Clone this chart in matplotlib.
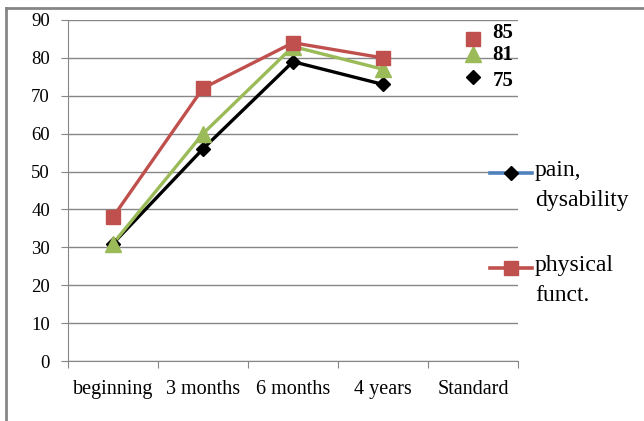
import matplotlib
matplotlib.use('Agg')
import matplotlib.pyplot as plt
from matplotlib.lines import Line2D
import numpy as np

plt.rcParams['font.family'] = ['Liberation Serif', 'DejaVu Serif']

categories = ['beginning', '3 months', '6 months', '4 years', 'Standard']
physical = [38, 72, 84, 80, 85]
middle = [31, 60, 83, 77, 81]
pain = [31, 56, 79, 73, 75]

red = '#C0504D'
green = '#9BBB59'
blue = '#4F81BD'
grey = '#868686'

fig = plt.figure(figsize=(6.44, 4.21), dpi=100)
ax = fig.add_axes([68 / 644, 1 - 361 / 421, 450 / 644, 341 / 421])

x = np.arange(len(categories))

# (values, colour, marker, size, label shift in points)
series = [
    (physical, red, 's', 10, 4),
    (middle, green, '^', 11, -1),
    (pain, 'black', 'D', 7, -3),
]
# lines run through the first four points, Standard gets markers only
for vals, col, mk, ms, dy in series[::-1]:
    ax.plot(x[:4], vals[:4], color=col, lw=2.4, zorder=3)
for vals, col, mk, ms, dy in series[::-1]:
    ax.plot(x, vals, ls='none', marker=mk, ms=ms, color=col, zorder=4)

for vals, col, mk, ms, dy in series:
    ax.annotate(str(vals[4]), (x[4], vals[4]), xytext=(14, dy),
                textcoords='offset points', va='center', ha='left',
                fontsize=15, fontweight='bold', zorder=5)

ax.set_xlim(-0.5, 4.5)
ax.set_ylim(0, 90)
ax.set_yticks(range(0, 91, 10))
ax.yaxis.grid(True, color=grey, lw=1)
ax.set_axisbelow(True)

ax.set_xticks(np.arange(-0.5, 5, 1))
ax.set_xticklabels([])
ax.set_xticks(x, minor=True)
ax.set_xticklabels(categories, minor=True, fontsize=14.5)
ax.tick_params(axis='x', which='major', length=5, color=grey, direction='out')
ax.tick_params(axis='x', which='minor', length=0, pad=14)
ax.tick_params(axis='y', length=5, color=grey, labelsize=13.5, pad=8)

for side in ['top', 'right']:
    ax.spines[side].set_visible(False)
for side in ['left', 'bottom']:
    ax.spines[side].set_color(grey)

# legend on the right, handle level with the first line of each label
legend_items = [
    ('pain,\ndysability', blue, 'D', 7, 'black', 173),
    ('physical\nfunct.', red, 's', 10, red, 268),
]
for label, col, mk, ms, mcol, ypx in legend_items:
    yf = 1 - ypx / 421
    fig.add_artist(Line2D([490 / 644, 532 / 644], [yf, yf], color=col, lw=2.6))
    fig.add_artist(Line2D([511 / 644], [yf], ls='none', marker=mk, ms=ms,
                          color=mcol))
    fig.text(535 / 644, 1 - (ypx - 13) / 421, label, fontsize=17,
             va='top', ha='left', linespacing=1.55)

# outer chart frame
fig.add_artist(Line2D([6 / 644, 6 / 644], [0, 1 - 8 / 421], color=grey, lw=2))
fig.add_artist(Line2D([6 / 644, 1], [1 - 8 / 421, 1 - 8 / 421], color=grey, lw=2))

fig.savefig('out.png', dpi=100)
